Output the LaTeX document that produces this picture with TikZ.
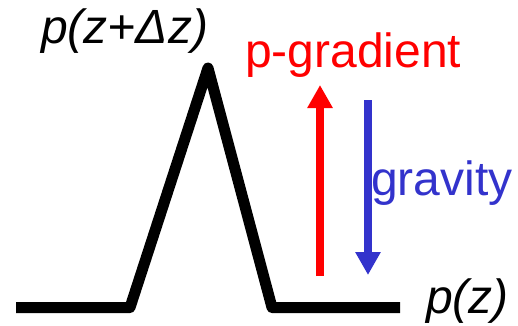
\documentclass[tikz,border=0pt]{standalone}
\usepackage{fontspec}
\setmainfont{Liberation Sans}
\usetikzlibrary{arrows.meta}
\definecolor{pred}{RGB}{255,0,0}
\definecolor{gblue}{RGB}{51,51,204}
\tikzset{
  lbl/.style={anchor=base west, inner sep=0pt, font=\fontsize{48}{52}\selectfont},
  force/.style={line width=8pt, -{Triangle[length=23pt,width=24pt]}},
}
\begin{document}
\begin{tikzpicture}[x=1pt,y=-1pt]
\useasboundingbox (0,0) rectangle (518,325);
\coordinate (a) at (16,307.5);
\coordinate (b) at (130,307.5);
\coordinate (c) at (208,68);
\coordinate (d) at (272,307.5);
\coordinate (e) at (400,307.5);
\draw[line width=11pt, line join=round] (a) -- (b) -- (c) -- (d) -- (e);
\coordinate (r0) at (320,276);
\coordinate (r1) at (320,85);
\coordinate (g0) at (368,100);
\coordinate (g1) at (368,275);
\draw[force, pred] (r0) -- (r1);
\draw[force, gblue] (g0) -- (g1);
\node[lbl] (top) at (41,43) {\itshape p(z+Δz)};
\node[lbl, text=pred] (pg) at (245,67) {p-gradient};
\node[lbl, text=gblue] (gr) at (371,195) {gravity};
\node[lbl] (bot) at (426,313) {\itshape p(z)};
\end{tikzpicture}
\end{document}
